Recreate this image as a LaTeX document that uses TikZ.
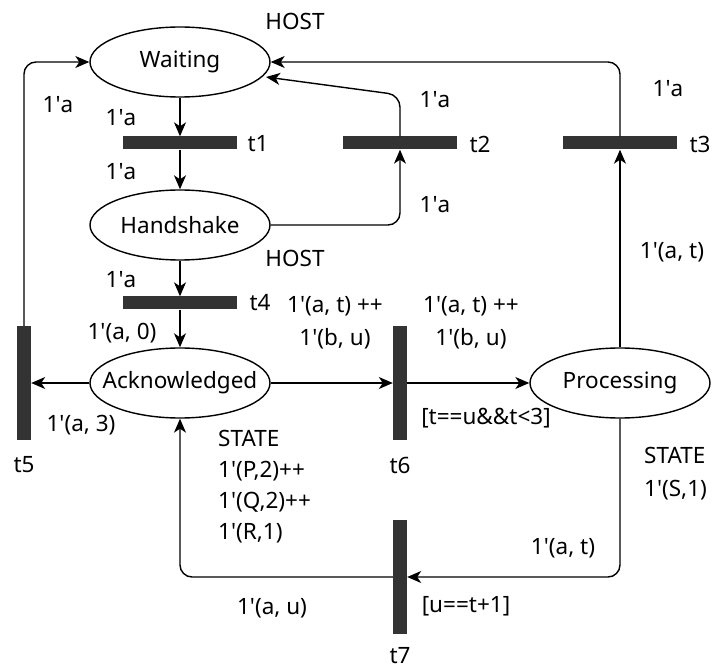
\documentclass[tikz,border=0pt]{standalone}
\usepackage{fontspec}
\setmainfont{Noto Sans}
\usetikzlibrary{arrows.meta,shapes.geometric}
\newcommand\ap{\textquotesingle}
\begin{document}
\begin{tikzpicture}[x=1pt,y=-1pt,
  font=\fontsize{22.5}{31}\selectfont,
  place/.style={draw,line width=1.4pt,ellipse,minimum width=180pt,minimum height=70pt,inner sep=0pt},
  hbar/.style={fill=black!80,minimum width=114pt,minimum height=13pt,inner sep=0pt},
  vbar/.style={fill=black!80,minimum width=14pt,minimum height=114pt,inner sep=0pt},
  arc/.style={line width=1.4pt,rounded corners=12pt,-{Stealth[length=14pt,width=12pt,inset=4pt]}},
  lbl/.style={inner sep=0pt},
  lblock/.style={inner sep=0pt,align=left,anchor=west},
  cblock/.style={inner sep=0pt,align=center,font=\fontsize{22.5}{33}\selectfont}]
\useasboundingbox (0,0) rectangle (724,671);

% places (text kept in a zero-width box so the ellipse keeps its size)
\node[place] (wait) at (180,62) {\makebox[0pt]{Waiting}};
\node[place] (hand) at (180,225) {\makebox[0pt]{Handshake}};
\node[place] (ack)  at (180,383) {\makebox[0pt]{Acknowledged}};
\node[place] (proc) at (620,383) {\makebox[0pt]{Processing}};

% transitions
\node[hbar] (t1) at (180,143) {};
\node[hbar] (t2) at (400,143) {};
\node[hbar] (t3) at (620,143) {};
\node[hbar] (t4) at (180,303) {};
\node[vbar] (t5) at (24,383) {};
\node[vbar] (t6) at (400,383) {};
\node[vbar] (t7) at (400,577) {};

% bends
\coordinate (c5) at (24,62);
\coordinate (c2a) at (400,225);
\coordinate (c2b) at (400,95);
\coordinate (c3) at (620,62);
\coordinate (c7a) at (620,577);
\coordinate (c7b) at (180,577);
\coordinate (wt) at (266,77);

% arcs
\draw[arc] (wait.south) -- (t1.north);
\draw[arc] (t1.south) -- (hand.north);
\draw[arc] (hand.east) -- (c2a) -- (t2.south);
\draw[arc] (t2.north) -- (c2b) -- (wt);
\draw[arc] (proc.north) -- (t3.south);
\draw[arc] (t3.north) -- (c3) -- (wait.east);
\draw[arc] (hand.south) -- (t4.north);
\draw[arc] (t4.south) -- (ack.north);
\draw[arc] (ack.west) -- (t5.east);
\draw[arc] (t5.north) -- (c5) -- (wait.west);
\draw[arc] (ack.east) -- (t6.west);
\draw[arc] (t6.east) -- (proc.west);
\draw[arc] (proc.south) -- (c7a) -- (t7.east);
\draw[arc] (t7.west) -- (c7b) -- (ack.south);

% transition names
\node[lbl] (n1) at (258,144) {t1};
\node[lbl] (n2) at (480,144) {t2};
\node[lbl] (n3) at (700,144) {t3};
\node[lbl] (n4) at (260,303) {t4};
\node[lbl] (n5) at (24,465) {t5};
\node[lbl] (n6) at (400,465) {t6};
\node[lbl] (n7) at (400,656) {t7};

% colour sets and initial markings
\node[lbl] (h1) at (295,21) {HOST};
\node[lbl] (h2) at (295,258) {HOST};
\node[lblock] (s1) at (218,487) {STATE\\1\ap(P,2)++\\1\ap(Q,2)++\\1\ap(R,1)};
\node[lbl,anchor=west] (s2a) at (644,455) {STATE};
\node[lbl,anchor=west] (s2b) at (644,490) {1\ap(S,1)};

% arc inscriptions
\node[lbl] (e1) at (58,105) {1\ap a};
\node[lbl] (e2) at (121,118) {1\ap a};
\node[lbl] (e3) at (121,172) {1\ap a};
\node[lbl] (e4) at (435,100) {1\ap a};
\node[lbl] (e5) at (435,205) {1\ap a};
\node[lbl] (e6) at (668,89) {1\ap a};
\node[lbl] (e7) at (672,252) {1\ap(a, t)};
\node[lbl] (e8) at (121,280) {1\ap a};
\node[lbl] (e9) at (122,333) {1\ap(a, 0)};
\node[lbl] (e10) at (81,425) {1\ap(a, 3)};
\node[cblock] (e11) at (335,323) {1\ap(a, t) ++\\1\ap(b, u)};
\node[cblock] (e12) at (471,323) {1\ap(a, t) ++\\1\ap(b, u)};
\node[lbl] (e13) at (563,548) {1\ap(a, t)};
\node[lbl] (e14) at (272,608) {1\ap(a, u)};

% guards
\node[lbl] (g6) at (486,418) {[t==u\&\&t<3]};
\node[lbl] (g7) at (466,606) {[u==t+1]};
\end{tikzpicture}
\end{document}
